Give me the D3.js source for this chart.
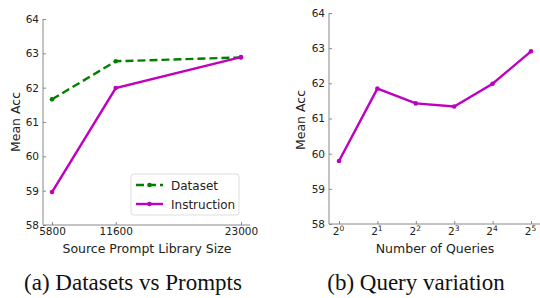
<!DOCTYPE html>
<html>
<head>
<meta charset="utf-8">
<script src="https://cdn.jsdelivr.net/npm/d3@7"></script>
<style>
  body { margin: 0; background: #fff; }
  svg { display: block; }
  .tick text { font-family: "DejaVu Sans", sans-serif; font-size: 10.5px; fill: #222; }
  .axis path, .axis line { stroke: #888; }
  .label { font-family: "DejaVu Sans", sans-serif; font-size: 12.5px; fill: #222; }
  .legend__item text { font-size: 12px; }
  .caption { font-family: "Liberation Serif", "Times New Roman", serif; font-size: 23px; fill: #111; }
</style>
</head>
<body>
<script>
// Panel (a): accuracy vs source prompt library size
var librarySizes = [5800, 11600, 23000];
var datasetAcc = [61.66, 62.77, 62.88];
var instructionAcc = [58.96, 61.99, 62.89];

// Panel (b): accuracy vs number of queries (powers of two)
var queryExponents = [0, 1, 2, 3, 4, 5];
var queryAcc = [59.79, 61.85, 61.43, 61.34, 61.99, 62.91];

var yTicks = [58, 59, 60, 61, 62, 63, 64];

var green = '#008000';
var magenta = '#bf00bf';

var svg = d3.select('body').append('svg')
    .attr('width', 540)
    .attr('height', 298);

function drawYAxis(g, y, x0) {
    var axis = g.append('g')
        .attr('class', 'axis')
        .attr('transform', 'translate(' + x0 + ',0)')
        .call(d3.axisLeft(y).tickValues(yTicks).tickSize(-3).tickPadding(4).tickFormat(d3.format('d')));
    axis.select('.domain').attr('d', 'M0,' + y(64) + 'V' + y(58));
}

function drawSeries(g, xs, ys, x, y, colour, dashed) {
    var pts = xs.map(function(d, i) { return [x(d), y(ys[i])]; });
    g.append('path')
        .attr('d', d3.line()(pts))
        .attr('fill', 'none')
        .attr('stroke', colour)
        .attr('stroke-width', 2.4)
        .attr('stroke-dasharray', dashed ? '8,4' : null);
    g.selectAll(null)
        .data(pts)
        .enter()
        .append('circle')
            .attr('cx', function(d) { return d[0]; })
            .attr('cy', function(d) { return d[1]; })
            .attr('r', 2.3)
            .attr('fill', colour);
}

// ---- Panel (a)
var ga = svg.append('g');
var xa = d3.scaleLinear().domain([5800, 23000]).range([52, 241]);
var ya = d3.scaleLinear().domain([58, 64]).range([225, 19]);

drawYAxis(ga, ya, 43);

var xAxisA = ga.append('g')
    .attr('class', 'axis')
    .attr('transform', 'translate(0,225)')
    .call(d3.axisBottom(xa).tickValues(librarySizes).tickSize(-3).tickPadding(3).tickFormat(d3.format('d')));
xAxisA.select('.domain').attr('d', 'M43,0H250');

drawSeries(ga, librarySizes, datasetAcc, xa, ya, green, true);
drawSeries(ga, librarySizes, instructionAcc, xa, ya, magenta, false);

ga.append('text')
    .attr('class', 'label')
    .attr('transform', 'translate(20,122) rotate(-90)')
    .attr('text-anchor', 'middle')
    .text('Mean Acc');

ga.append('text')
    .attr('class', 'label')
    .attr('x', 147)
    .attr('y', 253)
    .attr('text-anchor', 'middle')
    .text('Source Prompt Library Size');

// legend
var legend = ga.append('g').attr('transform', 'translate(131,174)');
legend.append('rect')
    .attr('width', 108)
    .attr('height', 41)
    .attr('rx', 3)
    .attr('fill', '#fff')
    .attr('fill-opacity', 0.85)
    .attr('stroke', '#ddd');

var legendItems = [
    {name: 'Dataset', colour: green, dashed: true},
    {name: 'Instruction', colour: magenta, dashed: false}
];
var items = legend.selectAll('g.legend__item')
    .data(legendItems)
    .enter()
    .append('g')
        .attr('class', 'legend__item')
        .attr('transform', function(d, i) { return 'translate(0,' + (11 + i * 19) + ')'; });
items.append('line')
    .attr('x1', 5).attr('x2', 32)
    .attr('stroke', function(d) { return d.colour; })
    .attr('stroke-width', 2.4)
    .attr('stroke-dasharray', function(d) { return d.dashed ? '8,4' : null; });
items.append('circle')
    .attr('cx', 18.5).attr('r', 2.3)
    .attr('fill', function(d) { return d.colour; });
items.append('text')
    .attr('class', 'label')
    .attr('x', 40)
    .attr('y', 4.5)
    .text(function(d) { return d.name; });

ga.append('text')
    .attr('class', 'caption')
    .attr('x', 133)
    .attr('y', 290)
    .attr('text-anchor', 'middle')
    .text('(a) Datasets vs Prompts');

// ---- Panel (b)
var gb = svg.append('g');
var xb = d3.scaleLinear().domain([0, 5]).range([339, 531]);
var yb = d3.scaleLinear().domain([58, 64]).range([224, 13]);

drawYAxis(gb, yb, 329);

var xAxisB = gb.append('g')
    .attr('class', 'axis')
    .attr('transform', 'translate(0,224)')
    .call(d3.axisBottom(xb).tickValues(queryExponents).tickSize(-3).tickPadding(3).tickFormat(''));
xAxisB.select('.domain').attr('d', 'M329,0H540');

// 2^n tick labels with superscripts
var tickLabel = xAxisB.selectAll('.tick text')
    .attr('y', 11)
    .attr('dy', 0)
    .attr('dx', -1);
tickLabel.append('tspan').text('2');
tickLabel.append('tspan')
    .attr('dy', -4.5)
    .style('font-size', '7.5px')
    .text(function(d) { return d; });

drawSeries(gb, queryExponents, queryAcc, xb, yb, magenta, false);

gb.append('text')
    .attr('class', 'label')
    .attr('transform', 'translate(305,120) rotate(-90)')
    .attr('text-anchor', 'middle')
    .text('Mean Acc');

gb.append('text')
    .attr('class', 'label')
    .attr('x', 435)
    .attr('y', 253)
    .attr('text-anchor', 'middle')
    .text('Number of Queries');

gb.append('text')
    .attr('class', 'caption')
    .attr('x', 416)
    .attr('y', 290)
    .attr('text-anchor', 'middle')
    .text('(b) Query variation');
</script>
</body>
</html>
